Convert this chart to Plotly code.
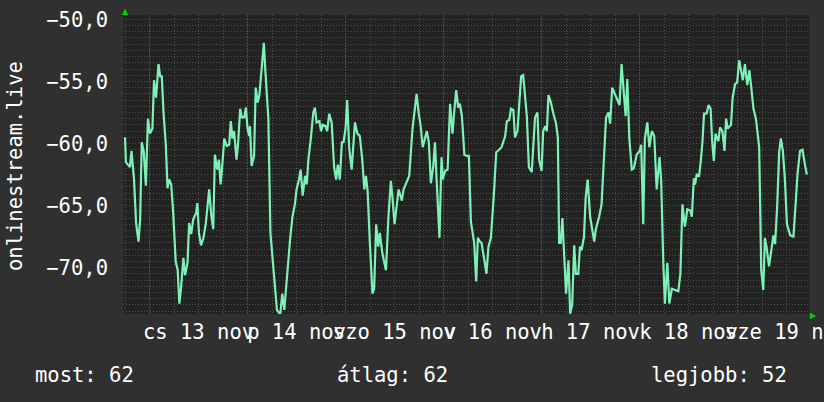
import pandas as pd
import plotly.graph_objects as go

# ---------------- data ----------------
START = pd.Timestamp("2025-11-12 17:30")
SPAN_H = 168

hours = [
    0.5, 0.7, 1.7, 2.1, 2.7, 3.2, 3.8, 4.2, 4.6, 5.1, 5.6, 6.1, 6.6, 7.2, 7.6, 8.1, 8.7, 9.1, 9.5, 9.9,
    10.5, 10.9, 11.3, 11.8, 12.3, 12.9, 13.4, 13.8, 14.2, 14.8, 15.2, 15.8, 16.2, 16.7, 17.2, 17.9, 18.2, 18.6, 19.1, 19.7,
    20.3, 20.7, 21.1, 21.6, 22.1, 22.5, 23.1, 23.5, 23.9, 24.3, 24.8, 25.4, 26.0, 26.4, 26.8, 27.2,
    27.8, 28.2, 28.7, 29.1, 29.7, 30.1, 30.5, 30.9, 31.1, 31.5, 32.1, 32.5, 33.0, 33.4, 34.0, 34.5, 34.8, 35.2, 35.6, 36.1,
    36.6, 37.1, 37.7, 38.5, 39.0, 39.5, 39.8, 40.5, 40.9, 41.5, 42.1, 42.5, 43.1, 43.5, 44.0, 44.6, 45.0, 45.4, 46.0, 46.6,
    47.0, 47.4, 48.1, 48.5, 48.9, 49.6, 50.0, 50.5, 51.1, 51.7, 52.2, 52.6, 53.1, 53.6, 54.0, 54.5, 54.9, 55.4,
    56.0, 56.8, 57.4, 58.0, 58.6, 59.1, 59.5, 59.9, 60.5, 61.1, 61.5, 62.0, 62.5, 62.9, 63.5, 64.4, 65.0, 65.6, 66.0, 66.5,
    67.5, 68.3, 68.7, 69.5, 70.1, 70.9, 71.5, 71.9, 72.4, 72.9, 73.4, 74.4, 74.9, 75.4, 76.0, 76.4, 76.8, 77.5, 78.0, 78.3,
    78.9, 79.5, 80.1, 80.7, 81.1, 81.6, 82.1, 82.5, 83.0, 83.6,
    84.2, 84.7, 85.2, 85.6, 86.0, 86.5, 86.9, 87.4, 87.8, 88.5, 89.0, 89.5, 90.1, 90.9, 91.4, 92.1, 92.7, 93.6, 94.0, 94.6,
    95.0, 95.6, 96.0, 96.6, 97.0, 97.5, 98.0, 98.5, 98.9, 99.4, 100.1, 100.5, 100.9, 101.5, 101.9, 102.5, 102.9, 103.4, 103.8, 104.2,
    104.8, 105.4, 106.0, 106.5, 106.8, 107.2, 107.6, 108.0, 108.5, 109.1, 109.5, 110.0, 110.5, 110.9, 111.5, 111.9,
    112.3, 112.9, 113.3, 113.8, 114.4, 114.9, 115.4, 115.8, 116.6, 117.2, 117.8, 118.3, 118.9, 119.3, 119.8, 120.5, 121.6, 122.1, 122.5, 123.1,
    123.5, 124.0, 124.6, 125.1, 125.8, 126.5, 126.9, 127.4, 127.8, 128.4, 128.9, 129.5, 130.1, 130.7, 131.4, 131.8, 132.3, 132.7, 133.3, 133.8,
    134.4, 135.2, 136.0, 136.5, 137.0, 137.6, 138.2, 138.9, 139.3, 139.8,
    140.1, 140.5, 141.1, 141.5, 141.9, 142.3, 142.9, 143.4, 143.9, 144.3, 144.7, 145.1, 145.8, 146.2, 146.8, 147.3, 147.7, 148.1, 148.9, 149.3,
    149.9, 150.4, 150.9, 151.8, 152.3, 152.9, 153.4, 153.8, 154.4, 155.0, 155.5, 155.8, 156.3, 156.8, 157.2, 157.6, 158.2, 158.7, 159.3, 159.7,
    160.2, 160.7, 161.1, 161.6, 162.1, 162.6, 163.4, 164.2, 164.7, 165.2, 165.8, 166.4, 166.8, 167.4, 167.7,
]

signal = [
    -59.5, -61.5, -61.9, -60.6, -62.9, -66.4, -67.9, -66.1, -59.9, -60.7, -63.4, -58.0, -59.2, -58.8, -54.9, -56.3, -53.6, -54.6, -54.6, -57.4,
    -60.2, -63.6, -62.9, -63.3, -65.6, -69.5, -70.2, -72.9, -71.7, -69.2, -70.6, -69.6, -66.4, -67.3, -66.1, -65.6, -64.8, -67.2, -68.2, -67.6,
    -66.4, -65.3, -63.7, -65.7, -66.9, -60.9, -62.1, -61.3, -63.3, -61.8, -59.6, -60.2, -60.1, -58.2, -59.6, -59.0,
    -61.3, -59.9, -57.2, -57.9, -57.9, -57.1, -58.8, -59.4, -58.6, -61.8, -61.0, -55.5, -56.7, -56.1, -54.0, -51.9, -53.8, -55.9, -58.0, -67.2,
    -69.2, -71.0, -73.4, -73.8, -72.1, -73.4, -72.0, -69.4, -67.8, -65.9, -64.9, -63.7, -62.9, -62.1, -64.2, -62.6, -63.3, -61.3, -59.6, -57.5,
    -57.1, -58.3, -58.2, -59.0, -58.5, -58.6, -59.0, -57.6, -58.3, -61.9, -62.9, -61.7, -62.9, -59.9, -59.9, -58.8, -56.5, -60.4,
    -62.1, -58.3, -59.2, -59.4, -61.3, -63.7, -62.6, -63.8, -68.3, -72.1, -71.7, -66.5, -68.3, -67.2, -68.8, -70.2, -65.9, -63.0, -64.4, -66.5,
    -63.7, -64.6, -63.7, -63.1, -62.6, -58.8, -57.2, -56.0, -57.5, -58.6, -60.3, -59.0, -59.9, -63.2, -61.8, -59.9, -62.9, -67.6, -61.1, -62.9,
    -62.2, -62.1, -56.8, -59.2, -57.5, -55.7, -57.1, -56.8, -57.8, -60.9,
    -61.0, -61.0, -66.3, -67.2, -68.0, -71.1, -67.6, -67.9, -68.0, -69.4, -70.5, -68.3, -67.6, -63.7, -60.7, -60.5, -60.3, -59.4, -58.2, -58.1,
    -57.2, -57.3, -59.5, -59.0, -56.7, -54.6, -54.5, -56.8, -57.8, -61.9, -62.3, -60.1, -57.9, -57.5, -61.3, -62.2, -59.0, -58.6, -59.0, -56.1,
    -56.7, -57.6, -58.3, -59.5, -68.0, -68.0, -66.0, -68.7, -72.1, -69.4, -73.7, -73.0, -68.2, -70.5, -70.5, -68.3,
    -68.6, -67.5, -64.4, -62.9, -65.9, -66.9, -67.9, -66.9, -65.9, -64.9, -60.7, -57.9, -57.5, -58.4, -55.5, -56.0, -56.9, -53.6, -55.1, -57.8,
    -54.8, -59.6, -62.1, -62.0, -60.9, -60.6, -60.1, -66.5, -59.6, -58.3, -60.3, -59.0, -59.4, -63.7, -61.1, -63.0, -69.4, -72.9, -69.6, -72.9,
    -71.7, -71.8, -71.9, -70.5, -64.9, -66.7, -65.3, -65.4, -65.9, -62.8,
    -63.3, -62.5, -62.6, -61.4, -59.9, -57.6, -57.6, -56.9, -57.2, -59.9, -61.4, -59.2, -59.8, -58.7, -59.0, -60.6, -58.0, -58.8, -58.5, -56.3,
    -55.2, -55.1, -53.3, -54.9, -53.6, -55.3, -54.1, -55.3, -57.2, -58.0, -59.6, -60.3, -70.2, -71.8, -67.6, -68.3, -69.9, -68.7, -67.4, -68.1,
    -65.1, -60.7, -59.6, -60.6, -62.9, -66.5, -67.4, -67.5, -64.9, -62.4, -60.6, -60.5, -61.3, -62.4, -62.4,
]
assert len(hours) == len(signal)

day_labels = ["cs 13 nov", "p 14 nov", "szo 15 nov", "v 16 nov", "h 17 nov", "k 18 nov", "sze 19 nov"]
y_range = [-73.73, -49.65]
y_title = "onlinestream.live"
footer = [("most: 62", 33), ("átlag: 62", 335), ("legjobb: 52", 649)]

# ---------------- build ----------------
times = [START + pd.Timedelta(hours=h) for h in hours]
label_pos = pd.date_range("2025-11-13 12:00", periods=len(day_labels), freq="D")
midnights = pd.date_range("2025-11-13 00:00", periods=7, freq="D")

FONT = "DejaVu Sans Mono"
FS = 20.5
WHITE = "#ffffff"
RED_GRID = "#7d3a3a"
GRAY_GRID = "#4e4e4e"
DOTS = "1px,2px"

W, H = 824, 402
L, R, T, B = 123, 809, 15, 314


def px(x):
    return (x - L) / (R - L)


def py(y):
    return (B - y) / (B - T)


fig = go.Figure()
fig.add_trace(go.Scatter(
    x=times, y=signal, mode="lines",
    line=dict(color="#7ef2b6", width=2.2),
    hoverinfo="skip", showlegend=False,
))

shapes = [
    dict(type="line", xref="x", yref="paper", x0=m, x1=m, y0=0, y1=1,
         line=dict(color=RED_GRID, width=1, dash=DOTS), layer="between")
    for m in midnights
]

annotations = [
    dict(text=y_title, xref="paper", yref="paper", x=px(15), y=py(166),
         textangle=-90, showarrow=False, xanchor="center", yanchor="middle",
         font=dict(family=FONT, size=FS, color=WHITE)),
    dict(text="▲", xref="paper", yref="paper", x=px(125), y=py(11),
         showarrow=False, xanchor="center", yanchor="middle",
         font=dict(family="DejaVu Sans", size=8, color="#00d000")),
    dict(text="▶", xref="paper", yref="paper", x=px(813), y=py(315),
         showarrow=False, xanchor="center", yanchor="middle",
         font=dict(family="DejaVu Sans", size=8, color="#00d000")),
]
for txt, xpos in footer:
    annotations.append(dict(text=txt, xref="paper", yref="paper", x=px(xpos), y=py(375),
                            showarrow=False, xanchor="left", yanchor="middle",
                            font=dict(family=FONT, size=FS, color=WHITE)))

fig.update_layout(
    width=W, height=H,
    margin=dict(l=L, r=W - R, t=T, b=H - B, pad=0, autoexpand=False),
    paper_bgcolor="#303030",
    plot_bgcolor="#222222",
    separators=", ",
    showlegend=False,
    shapes=shapes,
    annotations=annotations,
    xaxis=dict(
        type="date",
        range=[START, START + pd.Timedelta(hours=SPAN_H)],
        tickmode="array", tickvals=label_pos, ticktext=day_labels,
        tickangle=0, automargin=False, ticklabeloverflow="allow",
        showgrid=False, zeroline=False, showline=False, ticks="",
        ticklabelstandoff=3,
        tickfont=dict(family=FONT, size=FS, color=WHITE),
        minor=dict(tickmode="linear", tick0="2025-11-13 00:00", dtick=6 * 3600 * 1000,
                   showgrid=True, gridcolor=GRAY_GRID, griddash=DOTS, gridwidth=1),
        fixedrange=True,
    ),
    yaxis=dict(
        range=y_range, automargin=False,
        tickmode="linear", tick0=-50, dtick=5, tickformat=".1f",
        showgrid=True, gridcolor=RED_GRID, griddash=DOTS, gridwidth=1,
        zeroline=False, showline=False, ticks="",
        ticklabelstandoff=14,
        tickfont=dict(family=FONT, size=FS, color=WHITE),
        minor=dict(tickmode="linear", tick0=-50, dtick=0.5,
                   showgrid=True, gridcolor=GRAY_GRID, griddash=DOTS, gridwidth=1),
        fixedrange=True,
    ),
)

fig.write_html(
    "out.html",
    config={"displayModeBar": False},
    post_script="document.body.style.margin='0';document.body.style.padding='0';",
)
